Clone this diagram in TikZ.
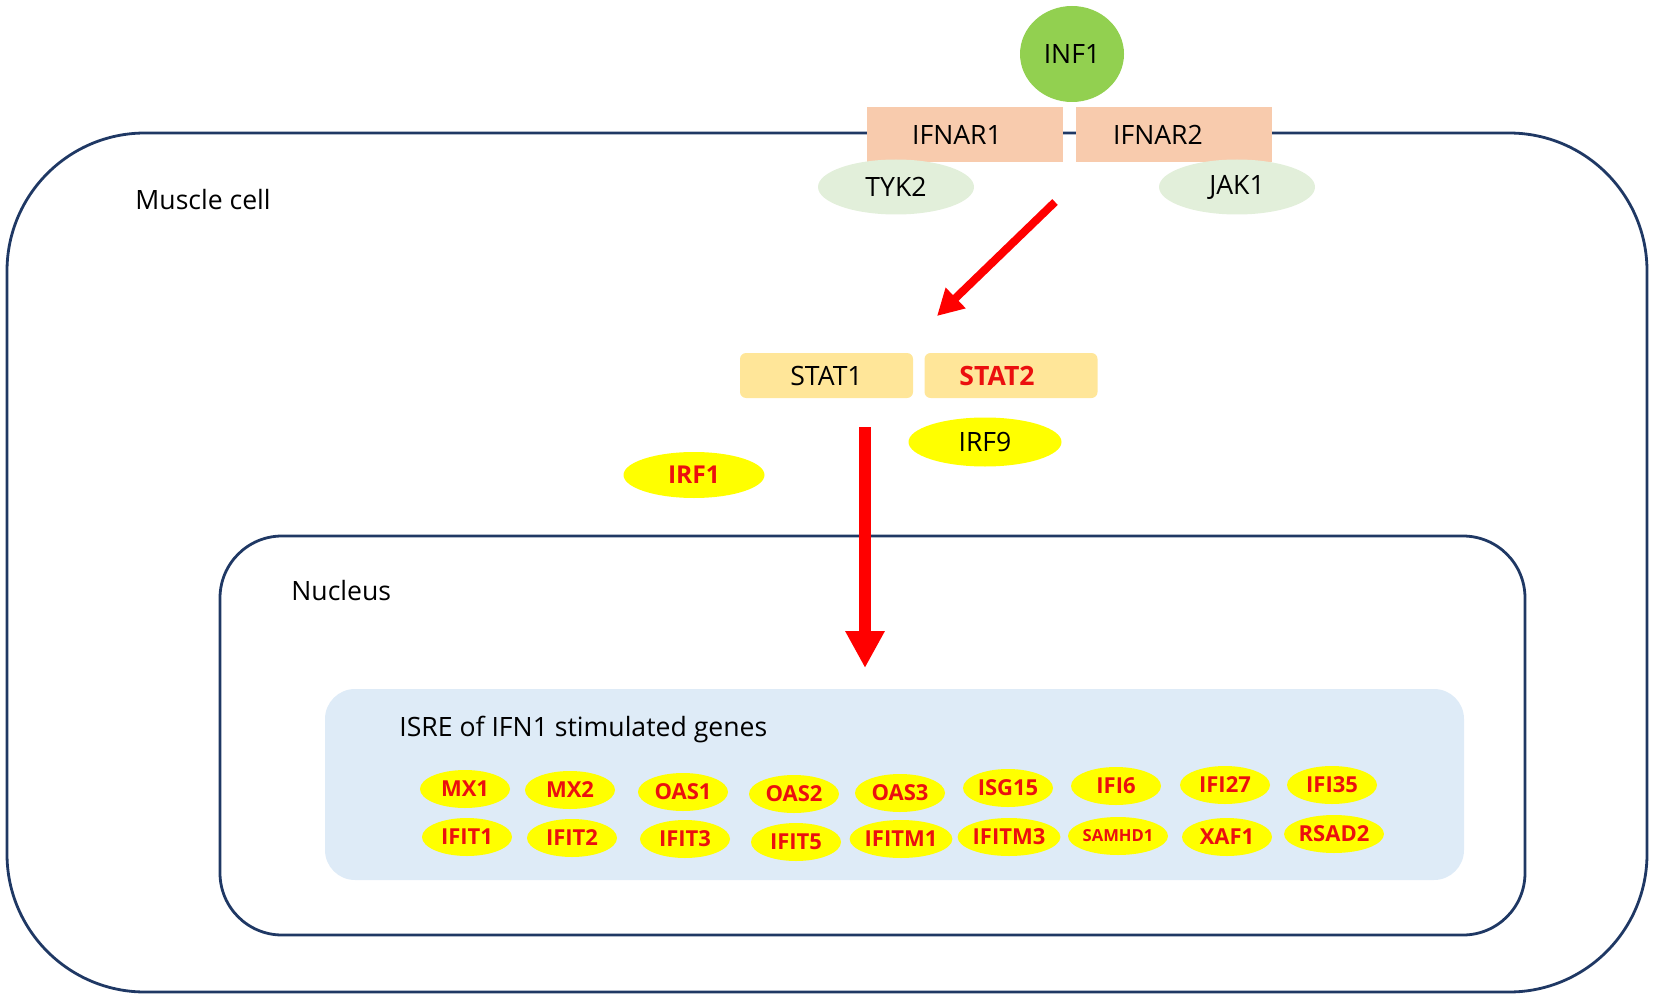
\documentclass[tikz,border=0pt]{standalone}
\usepackage{fontspec}
\setmainfont{Open Sans}
\usetikzlibrary{shapes.geometric,arrows.meta}
\definecolor{navy}{RGB}{31,56,100}
\definecolor{infgreen}{RGB}{146,208,80}
\definecolor{kinase}{RGB}{226,239,218}
\definecolor{recep}{RGB}{248,203,173}
\definecolor{statc}{RGB}{255,230,153}
\definecolor{isrec}{RGB}{222,235,247}
\definecolor{gred}{RGB}{235,15,15}
\definecolor{arred}{RGB}{255,0,0}
\definecolor{gyel}{RGB}{255,255,0}
\begin{document}
\begin{tikzpicture}[x=0.5pt,y=-0.5pt,
  lbl/.style={font=\fontsize{13.3}{16}\selectfont, text=black, inner sep=0pt},
  membranebox/.style={draw=navy, line width=1.4pt, inner sep=0pt},
  recbox/.style={rectangle, fill=recep, minimum width=98pt, minimum height=27.5pt, inner sep=0pt, font=\fontsize{13.3}{16}\selectfont},
  statbox/.style={rectangle, rounded corners=3pt, fill=statc, minimum width=86.5pt, minimum height=22.5pt, inner sep=0pt, font=\fontsize{13.3}{16}\selectfont},
  kin/.style={ellipse, fill=kinase, minimum width=78pt, minimum height=27.5pt, inner sep=0pt, font=\fontsize{13.3}{16}\selectfont},
  yel/.style={ellipse, fill=gyel, inner sep=0pt},
  gene/.style={yel, minimum width=45pt, minimum height=19pt, text=gred, font=\bfseries\fontsize{11}{13}\selectfont},
  redarrow/.style={draw=arred, color=arred}
]
\useasboundingbox (0,0) rectangle (1654,1000);
% compartments
\node[membranebox, rectangle, rounded corners=69pt, minimum width=820pt, minimum height=429.5pt] (cell) at (827,562.5) {};
\node[membranebox, rectangle, rounded corners=31pt, minimum width=652.5pt, minimum height=199.5pt] (nucleus) at (872.5,735.5) {};
\node[rectangle, fill=isrec, rounded corners=15pt, minimum width=569.5pt, minimum height=95.5pt, inner sep=0pt] (isrebox) at (894.5,784.5) {};
\node[lbl, anchor=west] (celllbl) at (135,200) {Muscle cell};
\node[lbl, anchor=west] (nuclbl) at (291,591) {Nucleus};
\node[lbl, anchor=west] (isrelbl) at (399,730) {ISRE of IFN1 stimulated genes};
% receptor complex
\node[ellipse, fill=infgreen, minimum width=52pt, minimum height=48pt, inner sep=0pt, font=\fontsize{13.3}{16}\selectfont] (inf) at (1072,54) {INF1};
\node[recbox] (ifnar1) at (965,134.5) {\hspace*{-8pt}IFNAR1};
\node[recbox] (ifnar2) at (1174,134.5) {\hspace*{-16pt}IFNAR2};
\node[kin] (tyk2) at (896,187) {TYK2};
\node[kin] (jak1) at (1237,187) {JAK1};
% STATs
\node[statbox] (stat1) at (826.5,375.5) {STAT1};
\node[statbox, text=gred, font=\bfseries\fontsize{13.3}{16}\selectfont] (stat2) at (1011,375.5) {\hspace*{-14pt}STAT2};
\node[yel, minimum width=76.5pt, minimum height=24.5pt, font=\fontsize{13.3}{16}\selectfont] (irf9) at (985,442) {IRF9};
\node[yel, minimum width=70.5pt, minimum height=23pt, text=gred, font=\bfseries\fontsize{12.3}{14}\selectfont] (irf1) at (694,475) {IRF1};
% arrows
\coordinate (a1s) at (1055,202);
\coordinate (a1e) at (937,316);
\draw[redarrow, line width=4pt, -{Triangle[width=13.5pt,length=13pt]}] (a1s) -- (a1e);
\coordinate (a2s) at (865,427);
\coordinate (a2e) at (865,668);
\draw[redarrow, line width=6pt, -{Triangle[width=18.5pt,length=18.5pt]}] (a2s) -- (a2e);
% genes row 1
\node[gene] (mx1) at (465,789) {MX1};
\node[gene] (mx2) at (570,790) {MX2};
\node[gene] (oas1) at (683,792) {OAS1};
\node[gene] (oas2) at (794,794) {OAS2};
\node[gene] (oas3) at (900,793) {OAS3};
\node[gene] (isg15) at (1008,788) {ISG15};
\node[gene] (ifi6) at (1116,786) {IFI6};
\node[gene] (ifi27) at (1225,785) {IFI27};
\node[gene] (ifi35) at (1332,785) {IFI35};
% genes row 2
\node[gene] (ifit1) at (467,837) {IFIT1};
\node[gene] (ifit2) at (572,838) {IFIT2};
\node[gene] (ifit3) at (685,839) {IFIT3};
\node[gene] (ifit5) at (796,842) {IFIT5};
\node[gene] (ifitm1) at (901,839) {IFITM1};
\node[gene] (ifitm3) at (1009,837) {IFITM3};
\node[gene, font=\bfseries\fontsize{8.3}{10}\selectfont] (samhd1) at (1118,836) {SAMHD1};
\node[gene] (xaf1) at (1227,837) {XAF1};
\node[gene] (rsad2) at (1334,834) {RSAD2};
\end{tikzpicture}
\end{document}
